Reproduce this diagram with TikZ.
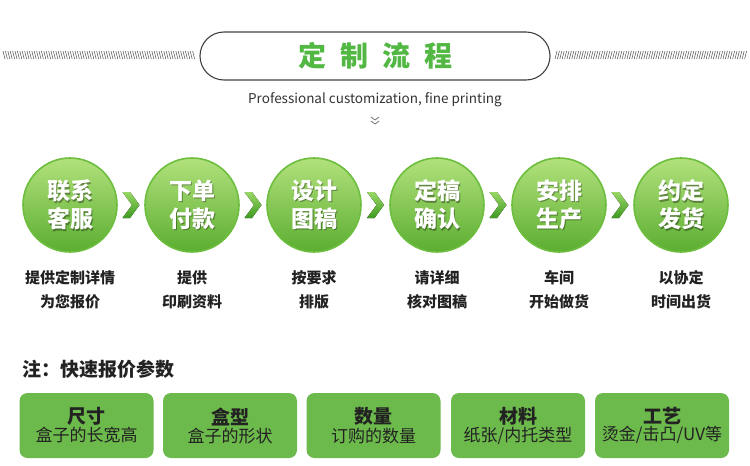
\documentclass[tikz,border=0pt]{standalone}
\usepackage{fontspec}
\setmainfont{Noto Sans CJK SC}
\usetikzlibrary{calc}
\definecolor{tgreen}{HTML}{52B843}
\definecolor{boxgreen}{HTML}{6CB94C}
\definecolor{cTop}{HTML}{B2E17C}
\definecolor{cBot}{HTML}{5BAE31}
\definecolor{rim}{HTML}{6DBE3E}
\definecolor{chTop}{HTML}{9AD866}
\definecolor{chBot}{HTML}{3E9A22}
\definecolor{txt}{HTML}{222222}
\tikzset{
  hatch/.style={draw=black!65, line width=0.55pt},
  pill/.style={draw=black!75, line width=1.1pt, rounded corners=24pt, minimum width=350pt, minimum height=48pt, inner sep=0pt},
  stepcirc/.style={circle, minimum size=94pt, inner sep=0pt, top color=cTop, bottom color=cBot, draw=rim, line width=1.6pt},
  ctext/.style={text=white, align=center, font=\fontsize{23}{28}\selectfont\bfseries},
  cshadow/.style={text=black, opacity=0.35, align=center, font=\fontsize{23}{28}\selectfont\bfseries},
  desc/.style={text=txt, align=center, font=\fontsize{15}{24}\selectfont\bfseries},
  pbox/.style={fill=boxgreen, rounded corners=8pt, minimum width=134pt, minimum height=65pt, inner sep=0pt, align=center, text=txt},
  chev/.pic={\fill[top color=chTop, bottom color=chBot] (-8.5,-13) -- (-1,-13) -- (8.5,0) -- (-1,13) -- (-8.5,13) -- (1,0) -- cycle;}
}
\newcommand{\bt}[2]{{\fontsize{19}{24}\selectfont\bfseries #1}\\[1pt]{\fontsize{17}{20}\selectfont #2}}
\begin{document}
\begin{tikzpicture}[x=1pt,y=-1pt]
\useasboundingbox (0,0) rectangle (750,466);
% hatches
\foreach \i in {0,...,79} {
  \coordinate (hl\i) at (3+\i*2.4,51);
  \draw[hatch] (hl\i) -- ++(2,8);
  \coordinate (hr\i) at (555+\i*2.4,59);
  \draw[hatch] (hr\i) -- ++(2,-8);
}
% title pill
\node[pill] (title) at (375,56) {};
\node[text=tgreen, font=\fontsize{28}{30}\selectfont\bfseries] (ttext) at (title.center) {定\hspace{14pt}制\hspace{14pt}流\hspace{14pt}程};
\node[text=black!80, font=\fontsize{13.5}{16}\selectfont] (sub) at (375,100) {Professional customization, fine printing};
\coordinate (dc) at (375,117);
\draw[black!55, line width=0.8pt] ($(dc)+(-4,0)$) -- ($(dc)+(0,3)$) -- ($(dc)+(4,0)$);
\draw[black!55, line width=0.8pt] ($(dc)+(-4,4)$) -- ($(dc)+(0,7)$) -- ($(dc)+(4,4)$);
% circles
\foreach \n/\x/\a/\b/\d/\e in {
  1/70/联系/客服/提供定制详情/为您报价,
  2/192/下单/付款/提供/印刷资料,
  3/314/设计/图稿/按要求/排版,
  4/437/定稿/确认/请详细/核对图稿,
  5/559/安排/生产/车间/开始做货,
  6/681/约定/发货/以协定/时间出货} {
  \node[stepcirc] (c\n) at (\x,205) {};
  \node[cshadow] at ($(c\n.center)+(1.2,1.2)$) {\a\\\b};
  \node[ctext] (ct\n) at (c\n.center) {\a\\\b};
  \node[desc] (d\n) at ($(c\n.center)+(0,85)$) {\d\\\e};
}
\foreach \i/\j in {1/2,2/3,3/4,4/5,5/6}
  \pic at ($(c\i.east)!0.5!(c\j.west)$) {chev};
% note
\node[anchor=west, text=txt, font=\fontsize{19}{22}\selectfont\bfseries] (note) at (19,369) {注：快速报价参数};
% boxes
\node[pbox] (b1) at (86.5,425.5) {\bt{尺寸}{盒子的长宽高}};
\node[pbox] (b2) at (230,425.5) {\bt{盒型}{盒子的形状}};
\node[pbox] (b3) at (373.5,425.5) {\bt{数量}{订购的数量}};
\node[pbox] (b4) at (518,425.5) {\bt{材料}{纸张/内托类型}};
\node[pbox] (b5) at (662,425.5) {\bt{工艺}{烫金/击凸/UV等}};
\end{tikzpicture}
\end{document}
